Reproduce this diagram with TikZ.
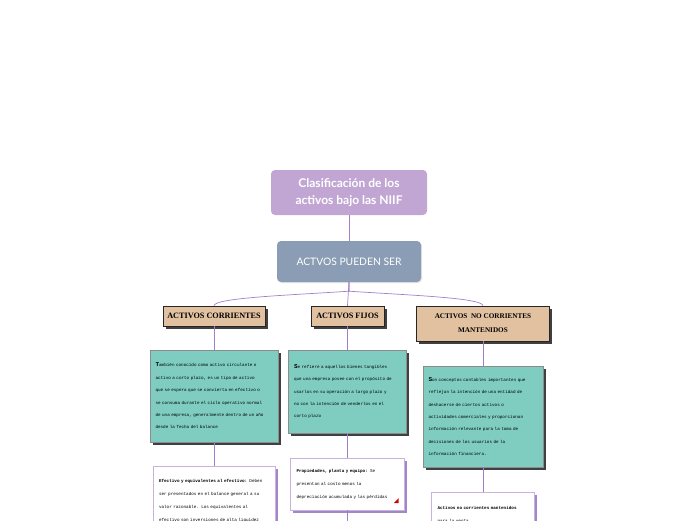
\documentclass[tikz,border=0pt]{standalone}
\usepackage{fontspec}
\setmainfont{Lato}
\newfontfamily\notefont{Liberation Mono}
\newfontfamily\headfont{Liberation Serif}
\usetikzlibrary{shadows}

\definecolor{lilac}{HTML}{C1A6D4}
\definecolor{slate}{HTML}{8A9DB5}
\definecolor{sand}{HTML}{E2C1A1}
\definecolor{mint}{HTML}{7ECDC0}
\definecolor{linkpurple}{HTML}{A27FCB}
\definecolor{shadepurple}{HTML}{A386C6}

\begin{document}
\begin{tikzpicture}[x=1pt, y=-1pt]
\useasboundingbox (0,0) rectangle (696,520);

\tikzset{titlebox/.style={rectangle, rounded corners=4pt, fill=lilac, text=white, align=center, inner sep=0pt, minimum width=156pt, minimum height=45pt, font=\bfseries\fontsize{12}{16.5}\selectfont}}
\tikzset{groupbox/.style={rectangle, rounded corners=4pt, fill=slate, text=white, inner sep=0pt, minimum width=144pt, minimum height=41pt, font=\fontsize{10.3}{12}\selectfont, drop shadow={opacity=0.2, shadow xshift=1pt, shadow yshift=-1pt}}}
\tikzset{kindbox/.style={rectangle, draw=black!85, fill=sand, align=center, inner sep=0pt, font=\headfont\bfseries\fontsize{8.2}{14}\selectfont, drop shadow={fill=black!75, opacity=1, shadow xshift=2.5pt, shadow yshift=-2.5pt}}}
\tikzset{notebox/.style={rectangle, draw=black!45, fill=mint, align=left, inner xsep=5.5pt, inner ysep=0pt, font=\notefont\fontsize{4.3}{12.4}\selectfont, drop shadow={fill=black!75, opacity=1, shadow xshift=2.5pt, shadow yshift=-2.5pt}}}
\tikzset{detailbox/.style={rectangle, draw=linkpurple!60, fill=white, align=left, inner xsep=6pt, font=\notefont\fontsize{4.3}{13}\selectfont, drop shadow={fill=shadepurple, opacity=1, shadow xshift=2.5pt, shadow yshift=-2.5pt}}}
\tikzset{link/.style={draw=linkpurple, line width=0.7pt}}

% figure title
\node[titlebox] at (349,192.5) (title) {Clasificación de los\\activos bajo las NIIF};
\node[groupbox] at (349,261.5) (ser) {ACTVOS PUEDEN SER};

% kinds of assets
\node[kindbox, minimum width=102pt, minimum height=20pt] at (214,316) (corr) {ACTIVOS CORRIENTES};
\node[kindbox, minimum width=73pt, minimum height=20pt] at (347.5,316) (fijos) {ACTIVOS FIJOS};
\node[kindbox, minimum width=133pt, minimum height=35pt, font=\headfont\bfseries\fontsize{7.2}{14}\selectfont] at (483,323.5) (nocorr) {ACTIVOS\ \ NO CORRIENTES\\MANTENIDOS};

% definitions
\node[notebox, text width=117pt, minimum height=92pt] at (214,396) (corrnote) {{\fontsize{6}{12.4}\selectfont\bfseries T}ambién conocido como activo circulante o\\activo a corto plazo, es un tipo de activo\\que se espera que se convierta en efectivo o\\se consuma durante el ciclo operativo normal\\de una empresa, generalmente dentro de un año\\desde la fecha del balance};
\node[notebox, text width=107pt, minimum height=83pt] at (347.5,391.5) (fijosnote) {{\fontsize{6}{12.4}\selectfont\bfseries S}e refiere a aquellos bienes tangibles\\que una empresa posee con el propósito de\\usarlos en su operación a largo plazo y\\no con la intención de venderlos en el\\corto plazo};
\node[notebox, text width=109pt, minimum height=101pt] at (483,416.5) (nocorrnote) {{\fontsize{6}{12.4}\selectfont\bfseries S}on conceptos contables importantes que\\reflejan la intención de una entidad de\\deshacerse de ciertos activos o\\actividades comerciales y proporcionan\\información relevante para la toma de\\decisiones de los usuarios de la\\información financiera.};

% details
\node[detailbox, text width=110pt, inner ysep=13pt, anchor=north] at (214,466) (efectivo) {{\bfseries Efectivo y equivalentes al efectivo:} Deben\\ser presentados en el balance general a su\\valor razonable. Los equivalentes al\\efectivo son inversiones de alta liquidez};
\node[detailbox, text width=102pt, minimum height=52pt, inner ysep=0pt] at (347.5,484) (propiedades) {{\bfseries Propiedades, planta y equipo:} Se\\presentan al costo menos la\\depreciación acumulada y las pérdidas};
\node[detailbox, text width=91pt, inner ysep=14pt, anchor=north] at (483,492) (mantenidos) {{\bfseries Activos no corrientes mantenidos}\\para la venta};
\fill[red!85!black] ([shift={(-11pt,7pt)}]propiedades.south east) -- ++(5pt,0pt) -- ++(0pt,5pt) -- cycle;
\coordinate (below) at (347.5,530);

% connections
\draw[link] (title) -- (ser);
\draw[link] (ser.south) -- (fijos.north);
\draw[link] (ser.south) -- ++(0,9) .. controls +(-60,4) and +(0,-8) .. (corr.north);
\draw[link] (ser.south) -- ++(0,9) .. controls +(60,4) and +(0,-8) .. (nocorr.north);
\draw[link] (corr) -- (corrnote);
\draw[link] (fijos) -- (fijosnote);
\draw[link] (nocorr) -- (nocorrnote);
\draw[link] (corrnote) -- (efectivo);
\draw[link] (fijosnote) -- (propiedades);
\draw[link] (nocorrnote) -- (mantenidos);
\draw[link] (propiedades) -- (below);

\end{tikzpicture}
\end{document}
